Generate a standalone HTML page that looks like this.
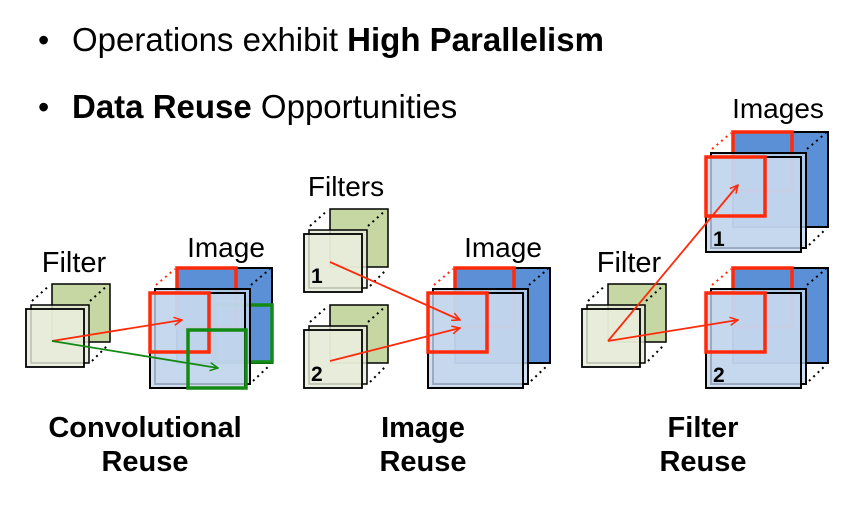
<!DOCTYPE html>
<html><head><meta charset="utf-8"><style>
html,body{margin:0;padding:0;background:#fff;width:846px;height:509px;overflow:hidden}
svg{display:block}
text{font-family:"Liberation Sans",Arial,sans-serif}
</style></head><body>
<svg width="846" height="509" viewBox="0 0 846 509" xmlns="http://www.w3.org/2000/svg">
<defs>
<g id="fs">
  <rect x="26" y="-25" width="58" height="58" fill="#c6d7a3" stroke="#000" stroke-width="1.5"/>
  <rect x="5" y="-4" width="58" height="58" fill="#e7ecda" fill-opacity="0.8" stroke="#000" stroke-width="1.5"/>
  <rect x="0" y="0" width="58" height="58" fill="#e7ecda" fill-opacity="0.8" stroke="#000" stroke-width="1.8"/>
  <g stroke="#000" stroke-width="2" stroke-dasharray="2 4" fill="none">
    <line x1="6" y1="-8" x2="24" y2="-24"/>
    <line x1="64" y1="-8" x2="82" y2="-24"/>
    <line x1="66" y1="52" x2="82" y2="36"/>
  </g>
</g>
<g id="isb">
  <rect x="27" y="-25" width="95" height="95" fill="#5b90d6" stroke="#000" stroke-width="2"/>
  <g stroke="#000" stroke-width="2" stroke-dasharray="2 4" fill="none">
    <line x1="101" y1="-8" x2="120" y2="-24"/>
    <line x1="103" y1="88" x2="120" y2="72"/>
  </g>
</g>
<g id="isf">
  <rect x="5" y="-4" width="95" height="95" fill="#c3d6ee" fill-opacity="0.8" stroke="#000" stroke-width="2"/>
  <rect x="0" y="0" width="95" height="95" fill="#c3d6ee" fill-opacity="0.8" stroke="#000" stroke-width="2"/>
</g>
<g id="rb">
  <g stroke="#ff2a0a" stroke-width="2" stroke-dasharray="2 4" fill="none">
    <line x1="6" y1="-8" x2="25" y2="-24"/>
  </g>
  <rect x="27" y="-25" width="59" height="59" fill="none" stroke="#ff2a0a" stroke-width="3.5"/>
</g>
<rect id="rf" x="0" y="0" width="59" height="59" fill="none" stroke="#ff2a0a" stroke-width="3.5"/>
<marker id="ar" markerWidth="10" markerHeight="10" refX="9" refY="5" orient="auto" markerUnits="userSpaceOnUse"><path d="M1,1 L9,5 L1,9" fill="none" stroke="#ff2a0a" stroke-width="1.5"/></marker>
<marker id="ag" markerWidth="10" markerHeight="10" refX="9" refY="5" orient="auto" markerUnits="userSpaceOnUse"><path d="M1,1 L9,5 L1,9" fill="none" stroke="#138a13" stroke-width="1.5"/></marker>
</defs>

<text x="38" y="51" font-size="32">•</text>
<text x="72" y="51" font-size="33">Operations exhibit <tspan font-weight="bold">High Parallelism</tspan></text>
<text x="38" y="118" font-size="32">•</text>
<text x="72" y="118" font-size="33"><tspan font-weight="bold">Data Reuse</tspan> Opportunities</text>

<!-- Convolutional -->
<text x="74" y="272" font-size="29" text-anchor="middle">Filter</text>
<text x="226" y="257" font-size="28" text-anchor="middle">Image</text>
<use href="#fs" x="26" y="309"/>
<use href="#isb" x="150" y="293"/>
<use href="#rb" x="150" y="293"/>
<rect x="215" y="305" width="57" height="57" fill="none" stroke="#138a13" stroke-width="3.5"/>
<use href="#isf" x="150" y="293"/>
<use href="#rf" x="150" y="293"/>
<rect x="188" y="330" width="58" height="58" fill="none" stroke="#138a13" stroke-width="3.5"/>
<line x1="52" y1="341" x2="182" y2="320" stroke="#ff2a0a" stroke-width="1.8" marker-end="url(#ar)"/>
<line x1="52" y1="341" x2="218" y2="368" stroke="#138a13" stroke-width="1.8" marker-end="url(#ag)"/>
<text x="145" y="437" font-size="29" font-weight="bold" text-anchor="middle">Convolutional</text>
<text x="145" y="471" font-size="29" font-weight="bold" text-anchor="middle">Reuse</text>

<!-- Image reuse -->
<text x="346" y="196" font-size="28" text-anchor="middle">Filters</text>
<text x="503" y="257" font-size="28" text-anchor="middle">Image</text>
<use href="#fs" x="304" y="234"/>
<use href="#fs" x="304" y="330"/>
<text x="311" y="283" font-size="21" font-weight="bold">1</text>
<text x="311" y="381" font-size="21" font-weight="bold">2</text>
<use href="#isb" x="428" y="293"/>
<use href="#rb" x="428" y="293"/>
<use href="#isf" x="428" y="293"/>
<use href="#rf" x="428" y="293"/>
<line x1="330" y1="262" x2="460" y2="320" stroke="#ff2a0a" stroke-width="1.8" marker-end="url(#ar)"/>
<line x1="330" y1="361" x2="460" y2="328" stroke="#ff2a0a" stroke-width="1.8" marker-end="url(#ar)"/>
<text x="423" y="437" font-size="29" font-weight="bold" text-anchor="middle">Image</text>
<text x="423" y="471" font-size="29" font-weight="bold" text-anchor="middle">Reuse</text>

<!-- Filter reuse -->
<text x="778" y="118" font-size="28" text-anchor="middle">Images</text>
<text x="629" y="272" font-size="29" text-anchor="middle">Filter</text>
<use href="#fs" x="582" y="309"/>
<use href="#isb" x="706" y="157"/>
<use href="#rb" x="706" y="157"/>
<use href="#isf" x="706" y="157"/>
<use href="#rf" x="706" y="157"/>
<text x="713" y="246" font-size="21" font-weight="bold">1</text>
<use href="#isb" x="706" y="293"/>
<use href="#rb" x="706" y="293"/>
<use href="#isf" x="706" y="293"/>
<use href="#rf" x="706" y="293"/>
<text x="713" y="382" font-size="21" font-weight="bold">2</text>
<line x1="608" y1="341" x2="738" y2="185" stroke="#ff2a0a" stroke-width="1.8" marker-end="url(#ar)"/>
<line x1="608" y1="341" x2="738" y2="320" stroke="#ff2a0a" stroke-width="1.8" marker-end="url(#ar)"/>
<text x="703" y="437" font-size="29" font-weight="bold" text-anchor="middle">Filter</text>
<text x="703" y="471" font-size="29" font-weight="bold" text-anchor="middle">Reuse</text>
</svg>
</body></html>
